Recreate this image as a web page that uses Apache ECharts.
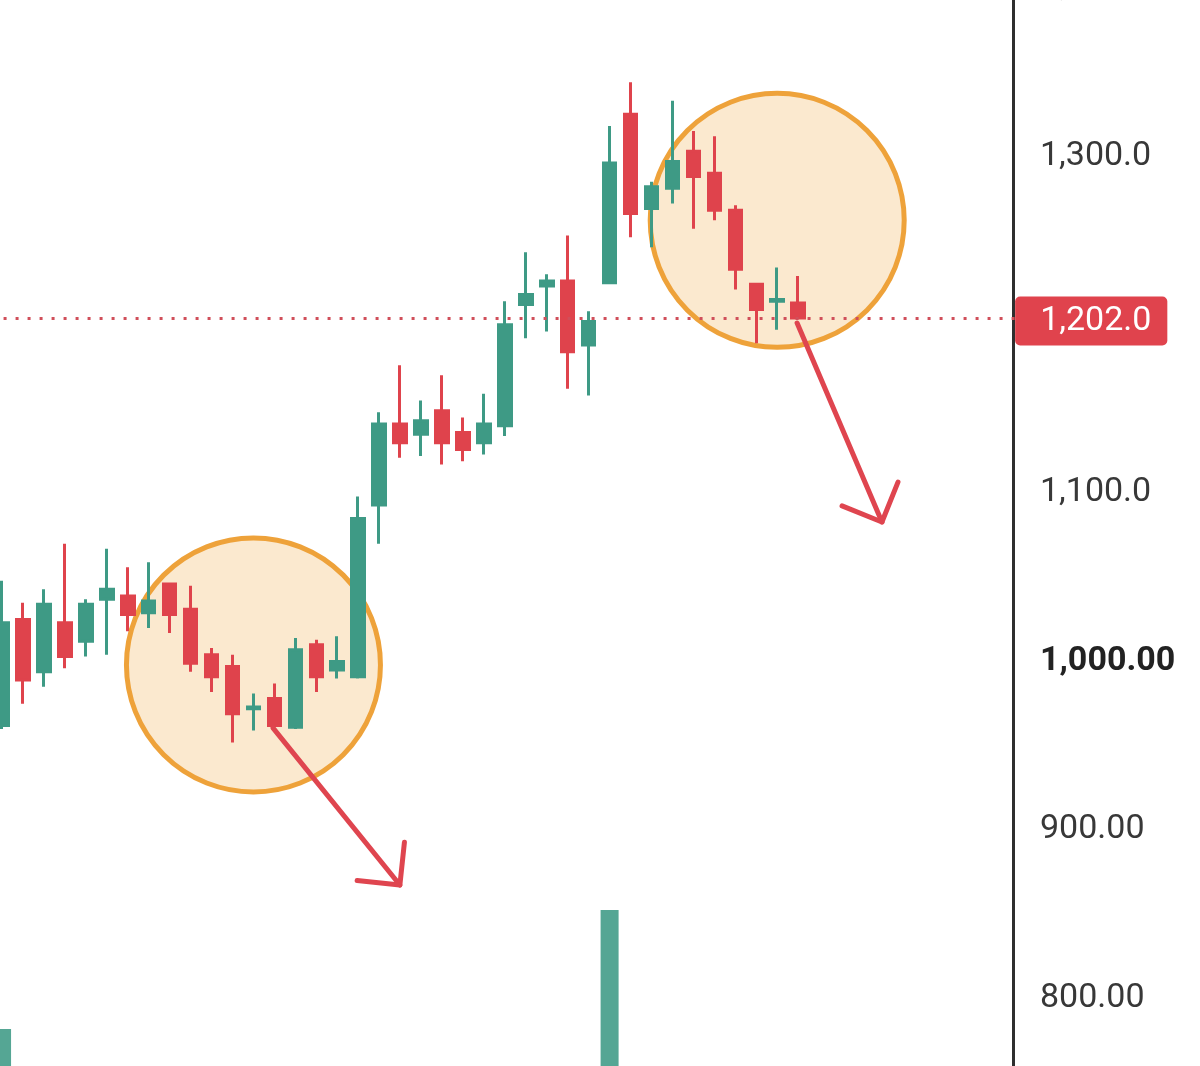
<!DOCTYPE html>
<html>
<head>
<meta charset="utf-8">
<script src="https://cdn.jsdelivr.net/npm/echarts@6/dist/echarts.min.js"></script>
<style>
html,body{margin:0;padding:0;background:#fff;}
#chart{width:1200px;height:1066px;}
</style>
</head>
<body>
<div id="chart"></div>
<script>
// ---- data ----
const categories = ['1','2','3','4','5','6','7','8','9','10','11','12','13','14','15','16','17','18','19','20',
  '21','22','23','24','25','26','27','28','29','30','31','32','33','34','35','36','37','38','39','40',
  '41','42','43','44','45','46','47','48','49'];
const opens  = [960,1023,992,1021,1010,1035,1037,1027,1044,1029,1002,995,970,976,959,1008,993,989,1091,1139,
  1133,1147,1134,1128,1138,1210,1221,1224,1186,1223,1323,1267,1279,1301,1288,1266,1222,1212,1211];
const closes = [1021,987,1032,1001,1032,1041,1026,1034,1026,997,989,967,971,960,1005,989,998,1083,1139,1128,
  1141,1128,1124,1139,1198,1216,1224,1182,1200,1294,1264,1280,1295,1286,1266,1231,1207,1213,1202];
const lows   = [958,973,983,994,1001,1002,1016,1018,1015,992,980,950,957,959,958,980,988,988,1068,1119,
  1120,1115,1117,1121,1132,1190,1194,1160,1156,1222,1250,1244,1270,1255,1260,1219,1187,1195,1202];
const highs  = [1046,1033,1041,1068,1035,1065,1054,1057,1044,1043,1006,1002,979,985,1012,1011,1013,1096,1146,1174,
  1153,1168,1143,1157,1212,1241,1228,1251,1206,1316,1342,1283,1331,1313,1310,1269,1223,1232,1227];
const volumes = [114,45,38,52,36,41,30,33,40,48,37,55,42,50,63,39,34,78,72,47,
  35,44,31,38,69,46,32,58,49,215,74,40,52,45,43,57,61,36,42];
const lastPrice = 1202;
const lastPriceLabel = '1,202.0';
const yTicks = [700,800,900,1000,1100,1200,1300,1400];
const yTickLabels = ['700.00','800.00','900.00','{b|1,000.00}','1,100.0','','1,300.0','1,400.0'];
// annotations in data coordinates [category index, price]
const circleCenters = [[12, 996], [37, 1260]];
const arrows = [
  {from: [12.93, 958.6], to: [18.99, 865.3]},
  {from: [37.95, 1199], to: [42.0, 1080.9]}
];

const UP = '#3e9a85', DOWN = '#df434c';
const candleData = opens.map((o, i) => [o, closes[i], lows[i], highs[i]]);
const volumeData = volumes.map((v, i) => ({
  value: v,
  itemStyle: {color: closes[i] >= opens[i] ? 'rgba(62,154,133,0.88)' : 'rgba(223,67,76,0.88)'}
}));

const chart = echarts.init(document.getElementById('chart'), null, {renderer: 'canvas'});
const slot = 20.95;
const gridLeft = 2.05 - slot / 2;
const gridWidth = slot * categories.length;
const gridRight = gridLeft + gridWidth;
const axisX = 1013;

chart.setOption({
  animation: false,
  backgroundColor: '#ffffff',
  textStyle: {fontFamily: 'Roboto, "Noto Sans", sans-serif'},
  grid: {left: gridLeft, width: gridWidth, top: -15.4, height: 1178.8, containLabel: false, outerBoundsMode: 'none'},
  xAxis: {
    type: 'category', data: categories, boundaryGap: true, show: false
  },
  yAxis: [{
    type: 'value', position: 'right', min: 700, max: 1400, interval: 100,
    offset: axisX - gridRight,
    axisLine: {show: true, lineStyle: {color: '#2e2e2e', width: 3}},
    axisTick: {show: false},
    splitLine: {show: false},
    axisLabel: {
      margin: 27, fontSize: 34, color: '#383838', fontFamily: 'Roboto',
      padding: [6, 0, 0, 0], hideOverlap: false, showMaxLabel: true,
      formatter: function (v) { const k = yTicks.indexOf(v); return k >= 0 ? yTickLabels[k] : ''; },
      rich: {b: {fontSize: 34, fontWeight: 'bold', color: '#222222', fontFamily: 'Roboto'}}
    }
  }, {
    type: 'value', min: 0, max: 1000, show: false, splitLine: {show: false}
  }],
  series: [{
    type: 'bar', name: 'Volume', yAxisIndex: 1, data: volumeData, barWidth: 18, z: 1, silent: true
  }, {
    type: 'candlestick', name: 'Price', data: candleData, barWidth: 13, z: 3,
    itemStyle: {color: UP, color0: DOWN, borderColor: UP, borderColor0: DOWN, borderWidth: 3},
    markLine: {
      silent: true, symbol: ['none', 'none'], z: 4,
      lineStyle: {color: '#d04f5a', width: 3, type: [3, 9]},
      label: {
        show: true, position: 'end', distance: -3, formatter: lastPriceLabel, offset: [0, 3],
        backgroundColor: '#e0434d', color: '#ffffff', fontSize: 34, fontFamily: 'Roboto',
        padding: [8, 16, 6, 25], borderRadius: 5, lineHeight: 35
      },
      data: [{yAxis: lastPrice}]
    }
  }]
});

function px(pt) {
  const a = chart.convertToPixel({xAxisIndex: 0, yAxisIndex: 0}, [0, pt[1]]);
  const b = chart.convertToPixel({xAxisIndex: 0, yAxisIndex: 0}, [1, pt[1]]);
  return [a[0] + (b[0] - a[0]) * pt[0], a[1]];
}

const elements = [];
circleCenters.forEach(c => {
  const p = px(c);
  elements.push({
    type: 'circle', shape: {cx: p[0], cy: p[1], r: 127}, z: 0,
    style: {fill: '#fbe9cf', stroke: '#eea23a', lineWidth: 5}, silent: true
  });
});
arrows.forEach(a => {
  const s = px(a.from), t = px(a.to);
  const ang = Math.atan2(s[1] - t[1], s[0] - t[0]);
  const L = 43, da = Math.PI / 4;
  const h1 = [t[0] + L * Math.cos(ang - da), t[1] + L * Math.sin(ang - da)];
  const h2 = [t[0] + L * Math.cos(ang + da), t[1] + L * Math.sin(ang + da)];
  const st = {stroke: '#df454f', lineWidth: 5, lineCap: 'round', lineJoin: 'round', fill: null};
  elements.push({type: 'polyline', shape: {points: [s, t]}, style: st, z: 100, silent: true});
  elements.push({type: 'polyline', shape: {points: [h1, t, h2]}, style: st, z: 100, silent: true});
});
chart.setOption({graphic: elements});
</script>
</body>
</html>
